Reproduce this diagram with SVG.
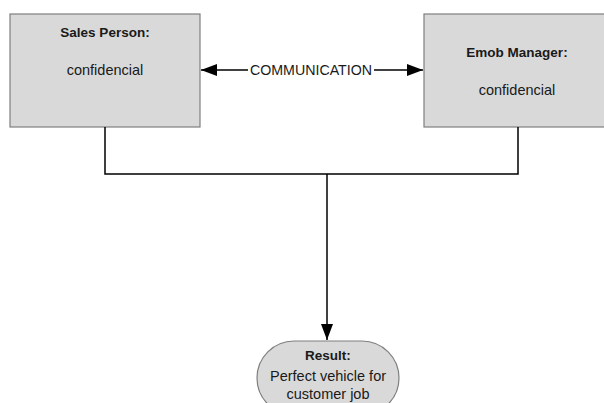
<svg xmlns="http://www.w3.org/2000/svg" width="604" height="403" viewBox="0 0 604 403">
  <defs>
    <style>
      .box { fill: #d9d9d9; stroke: #7f7f7f; stroke-width: 1.2; }
      .title { font-family: "Liberation Sans", Arial, sans-serif; font-size: 13.5px; font-weight: bold; fill: #1a1a1a; text-anchor: middle; }
      .body { font-family: "Liberation Sans", Arial, sans-serif; font-size: 14.5px; fill: #1a1a1a; text-anchor: middle; }
      .wire { fill: none; stroke: #000; stroke-width: 1.5; }
    </style>
    <marker id="arrow" viewBox="0 0 16 12" refX="16" refY="6" markerWidth="16" markerHeight="12" markerUnits="userSpaceOnUse" orient="auto-start-reverse">
      <path d="M0,0 L16,6 L0,12 Z" fill="#000"/>
    </marker>
  </defs>
  <rect width="604" height="403" fill="#fff"/>

  <g id="sales-person">
    <rect class="box" x="10" y="14" width="190" height="113"/>
    <text class="title" x="105" y="37">Sales Person:</text>
    <text class="body" x="105" y="75">confidencial</text>
  </g>

  <g id="emob-manager">
    <rect class="box" x="424" y="14" width="186" height="113"/>
    <text class="title" x="517" y="57">Emob Manager:</text>
    <text class="body" x="517" y="95">confidencial</text>
  </g>

  <g id="result">
    <rect class="box" x="257" y="341" width="142" height="74" rx="37" ry="37"/>
    <text class="title" x="328" y="360">Result:</text>
    <text class="body" x="328" y="381">Perfect vehicle for</text>
    <text class="body" x="328" y="399">customer job</text>
  </g>

  <g id="connectors">
    <!-- two-way link between the boxes, split around its label -->
    <path class="wire" d="M248,70 H201" marker-end="url(#arrow)"/>
    <path class="wire" d="M374,70 H423" marker-end="url(#arrow)"/>
    <text class="body" x="311" y="75" textLength="122" lengthAdjust="spacingAndGlyphs">COMMUNICATION</text>
    <!-- both boxes merge into the result -->
    <path class="wire" d="M105,127 V174 H518 V127"/>
    <path class="wire" d="M327,174 V340" marker-end="url(#arrow)"/>
  </g>
</svg>
